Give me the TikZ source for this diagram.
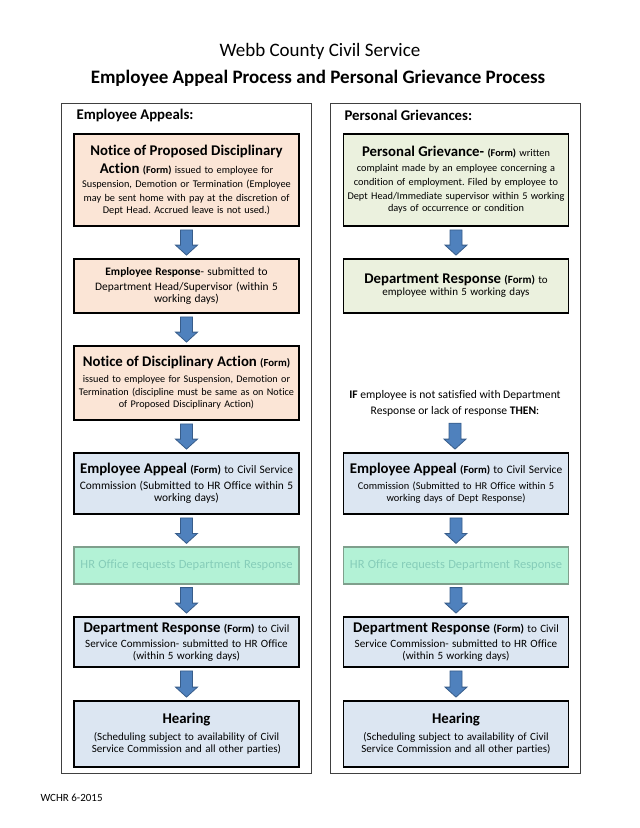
\documentclass[tikz,border=0pt]{standalone}
\usepackage{fontspec}
\setmainfont{Carlito}[Ligatures=NoCommon]
\usepackage{tikz}
\usetikzlibrary{calc}
\definecolor{peach}{HTML}{FBE5D6}
\definecolor{olivelt}{HTML}{EBF1DE}
\definecolor{bluelt}{HTML}{DCE6F2}
\definecolor{mint}{HTML}{B3F2D6}
\definecolor{mintline}{HTML}{7F9F8C}
\definecolor{minttext}{HTML}{86CDB9}
\definecolor{arrowfill}{HTML}{4F81BD}
\definecolor{arrowline}{HTML}{385D8A}
\tikzset{stepbox/.style={draw=black,line width=1.8pt,minimum width=225pt,
           text width=221pt,align=center,inner sep=2pt},
         peachbox/.style={stepbox,fill=peach},
         olivebox/.style={stepbox,fill=olivelt},
         bluebox/.style={stepbox,fill=bluelt},
         hrbox/.style={stepbox,draw=mintline,line width=1.2pt,fill=mint,text=minttext},
         panel/.style={draw=black!75,line width=1pt},
         blkarrow/.style={draw=arrowline,fill=arrowfill,line width=0.8pt}}
\newcommand{\hd}{\fontsize{14.8}{17}\selectfont\bfseries}
\newcommand{\txt}[2]{\fontsize{#1}{#2}\selectfont}
\newcommand{\blkarrow}[2]{%
  \filldraw[blkarrow] let \p1=(#1.south), \p2=(#2.north) in
    (\x1-6pt,\y1-3pt) -- (\x1-6pt,\y2+13pt) -- (\x1-11pt,\y2+13pt) -- (\x1,\y2+3pt)
    -- (\x1+11pt,\y2+13pt) -- (\x1+6pt,\y2+13pt) -- (\x1+6pt,\y1-3pt) -- cycle;}
\frenchspacing
\begin{document}
\begin{tikzpicture}[x=1pt,y=-1pt]
\useasboundingbox (0,0) rectangle (640,828);
\node (title) at (320,51) {\txt{19}{22}Webb County Civil Service};
\node (subtitle) at (318,78) {\txt{19}{22}\bfseries Employee Appeal Process and Personal Grievance Process};

% the two columns
\draw[panel] (61,103) rectangle (311,773);
\draw[panel] (330,103) rectangle (580,773);
\node[anchor=west] (appealhd) at (73,115) {\txt{14.8}{16}\bfseries Employee Appeals:};
\node[anchor=west] (grievhd) at (341,115) {\txt{14.8}{16}\bfseries Personal Grievances:};

% employee appeals
\node[peachbox,minimum height=92pt] (proposed) at (186.5,180) {\txt{10.3}{13.5}%
  {\hd Notice of Proposed Disciplinary}\\[4pt]
  {\hd Action} {\bfseries (Form)} issued to employee for\\[1pt]
  Suspension, Demotion or Termination (Employee\\
  may be sent home with pay at the discretion of\\
  Dept Head. Accrued leave is not used.)};
\node[peachbox,minimum height=54pt] (empresp) at (186.5,286) {\txt{11.4}{15}%
  {\bfseries Employee Response}- submitted to\\
  Department Head/Supervisor (within 5\\
  working days)};
\node[peachbox,minimum height=74pt] (discip) at (186.5,383) {\txt{10.2}{13.5}%
  {\hd Notice of Disciplinary Action} {\txt{10.8}{13.5}\bfseries (Form)}\\[2pt]
  issued to employee for Suspension, Demotion or\\
  Termination (discipline must be same as on Notice\\
  of Proposed Disciplinary Action)};
\node[bluebox,minimum height=61pt] (appealL) at (186.5,483.5) {\txt{11.4}{15}%
  {\hd Employee Appeal} {\txt{11}{15}\bfseries (Form)} to Civil Service\\[1pt]
  Commission (Submitted to HR Office within 5\\
  working days)};
\node[hrbox,minimum height=37pt] (hrL) at (186.5,565.5) {\txt{12.5}{14}%
  HR Office requests Department Response};
\node[bluebox,minimum height=50pt] (deptL) at (186.5,642) {\txt{11.1}{15.5}%
  {\hd Department Response} {\bfseries (Form)} to Civil\\
  Service Commission- submitted to HR Office\\
  (within 5 working days)};
\node[bluebox,minimum height=66pt] (hearL) at (186.5,734) {\txt{11}{15}%
  {\hd Hearing}\\[2pt]
  (Scheduling subject to availability of Civil\\
  Service Commission and all other parties)};

% personal grievances
\node[olivebox,minimum height=92pt] (grievance) at (456,180) {\txt{10.3}{14}%
  {\hd Personal Grievance-} {\bfseries (Form)} written\\[1pt]
  complaint made by an employee concerning a\\
  condition of employment. Filed by employee to\\
  Dept Head/Immediate supervisor within 5 working\\
  days of occurrence or condition};
\node[olivebox,minimum height=54pt] (deptresp) at (456,286) {\txt{11}{16}%
  {\hd Department Response} {\bfseries (Form)} to\\
  employee within 5 working days};
\node[align=center,inner sep=4pt,font=\txt{11.6}{16}] (ifthen) at (455,403)
  {{\bfseries IF} employee is not satisfied with Department\\
  Response or lack of response {\bfseries THEN}:};
\node[bluebox,minimum height=61pt] (appealR) at (456,483.5) {\txt{10.4}{14}%
  {\hd Employee Appeal} {\txt{10.8}{14}\bfseries (Form)} {\txt{11.4}{14}to Civil Service}\\[2pt]
  Commission (Submitted to HR Office within 5\\
  working days of Dept Response)};
\node[hrbox,minimum height=37pt] (hrR) at (456,565.5) {\txt{12.5}{14}%
  HR Office requests Department Response};
\node[bluebox,minimum height=50pt] (deptR) at (456,642) {\txt{11.1}{15.5}%
  {\hd Department Response} {\bfseries (Form)} to Civil\\
  Service Commission- submitted to HR Office\\
  (within 5 working days)};
\node[bluebox,minimum height=66pt] (hearR) at (456,734) {\txt{11}{15}%
  {\hd Hearing}\\[2pt]
  (Scheduling subject to availability of Civil\\
  Service Commission and all other parties)};

\foreach \a/\b in {proposed/empresp,empresp/discip,discip/appealL,appealL/hrL,
                   hrL/deptL,deptL/hearL,grievance/deptresp,ifthen/appealR,
                   appealR/hrR,hrR/deptR,deptR/hearR}
  \blkarrow{\a}{\b};

\node[anchor=west] (footer) at (37,798) {\txt{11}{12}WCHR 6-2015};
\end{tikzpicture}
\end{document}
